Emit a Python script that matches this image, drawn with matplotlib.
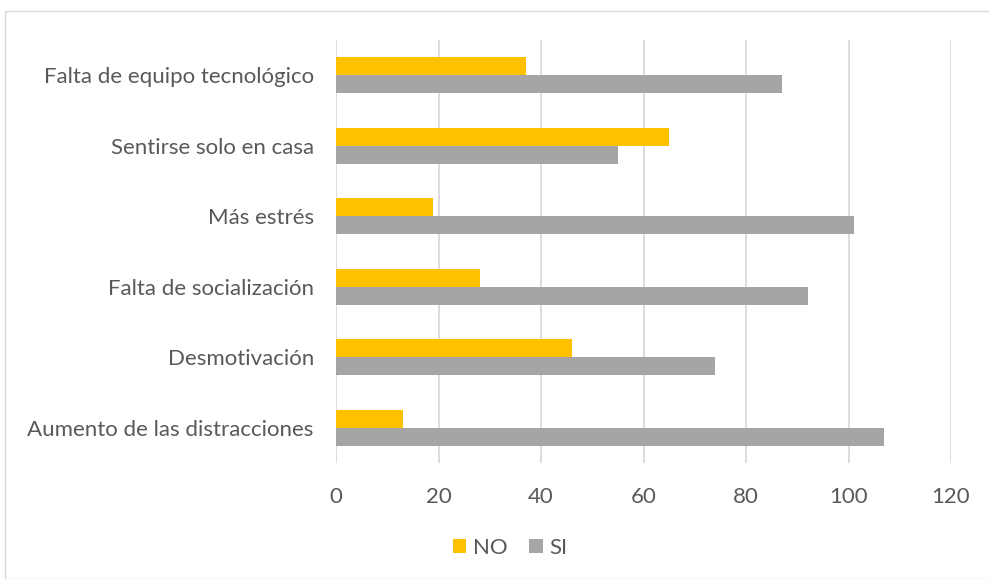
import numpy as np
import matplotlib.pyplot as plt
from matplotlib.patches import Rectangle

categorias = ['Falta de equipo tecnológico', 'Sentirse solo en casa', 'Más estrés',
              'Falta de socialización', 'Desmotivación', 'Aumento de las distracciones']
no_vals = [37, 65, 19, 28, 46, 13]
si_vals = [87, 55, 101, 92, 74, 107]
xticks = [0, 20, 40, 60, 80, 100, 120]

plt.rcParams['font.family'] = ['Lato', 'DejaVu Sans']

fig = plt.figure(figsize=(9.89, 5.79), dpi=100)
ax = fig.add_axes([336/989, 1 - 463/579, (951 - 336)/989, (463 - 40)/579])

y = np.arange(len(categorias))
h = 0.255
ax.barh(y - h/2, no_vals, height=h, color='#FFC000', label='NO', zorder=3)
ax.barh(y + h/2, si_vals, height=h, color='#A5A5A5', label='SI', zorder=3)

ax.set_ylim(len(categorias) - 0.5, -0.5)
ax.set_xlim(0, 120)
ax.set_xticks(xticks)
ax.set_yticks(y)
ax.set_yticklabels(categorias)
ax.grid(axis='x', color='#D9D9D9', linewidth=1.3, zorder=0)
for s in ax.spines.values():
    s.set_visible(False)
ax.tick_params(axis='both', length=0, labelsize=16, colors='#595959')
ax.tick_params(axis='x', pad=17)
ax.tick_params(axis='y', pad=16)

fig.legend(loc='center', bbox_to_anchor=(510/989, 1 - 548/579), ncol=2, frameon=False,
           fontsize=16, handlelength=0.6, handleheight=0.6, handletextpad=0.3,
           columnspacing=1.0, labelcolor='#595959')

fig.patches.append(Rectangle((5/989, 0), 1, 1 - 11/579, transform=fig.transFigure,
                             fill=False, edgecolor='#D9D9D9', linewidth=1))

fig.savefig('out.png', dpi=100)
